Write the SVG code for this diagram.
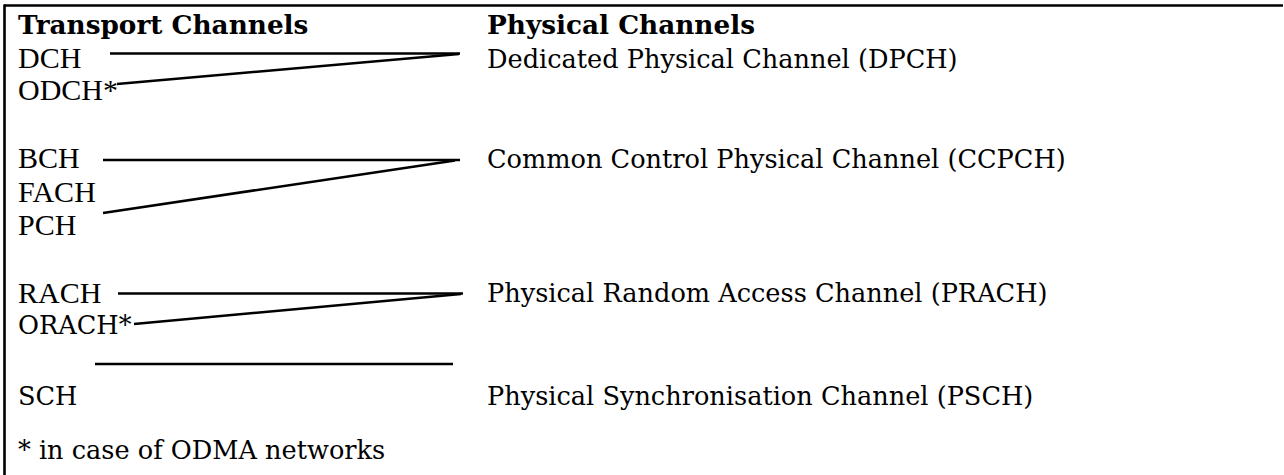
<svg xmlns="http://www.w3.org/2000/svg" width="1284" height="475" viewBox="0 0 1284 475">
<style>
.t{font-family:"Liberation Serif","Times New Roman",serif;font-size:30px;fill:#000}
.c{font-family:"DejaVu Serif",serif;font-size:25.6px;fill:#000}
.b{font-family:"DejaVu Serif",serif;font-size:26.3px;font-weight:bold;fill:#000}
.ln{stroke:#000;stroke-width:2.6;fill:none}
</style>
<rect width="1284" height="475" fill="#fff"/>
<g id="frame">
<line class="ln" x1="4" y1="5.5" x2="1283" y2="5.5"/>
<line class="ln" x1="4.5" y1="4.5" x2="4.5" y2="475"/>
</g>
<g id="headers">
<text class="b" x="18" y="34">Transport Channels</text>
<text class="b" x="487" y="34">Physical Channels</text>
</g>
<g id="transport">
<text id="dch" class="t" x="18" y="68">DCH</text>
<text id="odch" class="t" x="18" y="100">ODCH*</text>
<text id="bch" class="t" x="18" y="168">BCH</text>
<text id="fach" class="t" x="18" y="202">FACH</text>
<text id="pch" class="t" x="18" y="235">PCH</text>
<text id="rach" class="t" x="18" y="303">RACH</text>
<text id="orach" class="c" x="18" y="334">ORACH*</text>
<text id="sch" class="c" x="18" y="405">SCH</text>
</g>
<g id="physical">
<text id="dpch" class="c" x="487" y="68">Dedicated Physical Channel (DPCH)</text>
<text id="ccpch" class="c" x="487" y="168">Common Control Physical Channel (CCPCH)</text>
<text id="prach" class="c" x="487" y="302">Physical Random Access Channel (PRACH)</text>
<text id="psch" class="c" x="487" y="405">Physical Synchronisation Channel (PSCH)</text>
</g>
<g id="connectors">
<line class="ln" x1="110" y1="53.5" x2="460" y2="53.5"/>
<line class="ln" x1="117" y1="84" x2="459" y2="54"/>
<line class="ln" x1="103" y1="160" x2="460" y2="160"/>
<line class="ln" x1="103" y1="213" x2="455" y2="160.5"/>
<line class="ln" x1="118" y1="293.5" x2="463" y2="293.5"/>
<line class="ln" x1="134" y1="324" x2="461" y2="294"/>
<line class="ln" x1="95" y1="364" x2="453" y2="364"/>
</g>
<g id="footnote">
<text class="c" x="18" y="459">* in case of ODMA networks</text>
</g>
</svg>
